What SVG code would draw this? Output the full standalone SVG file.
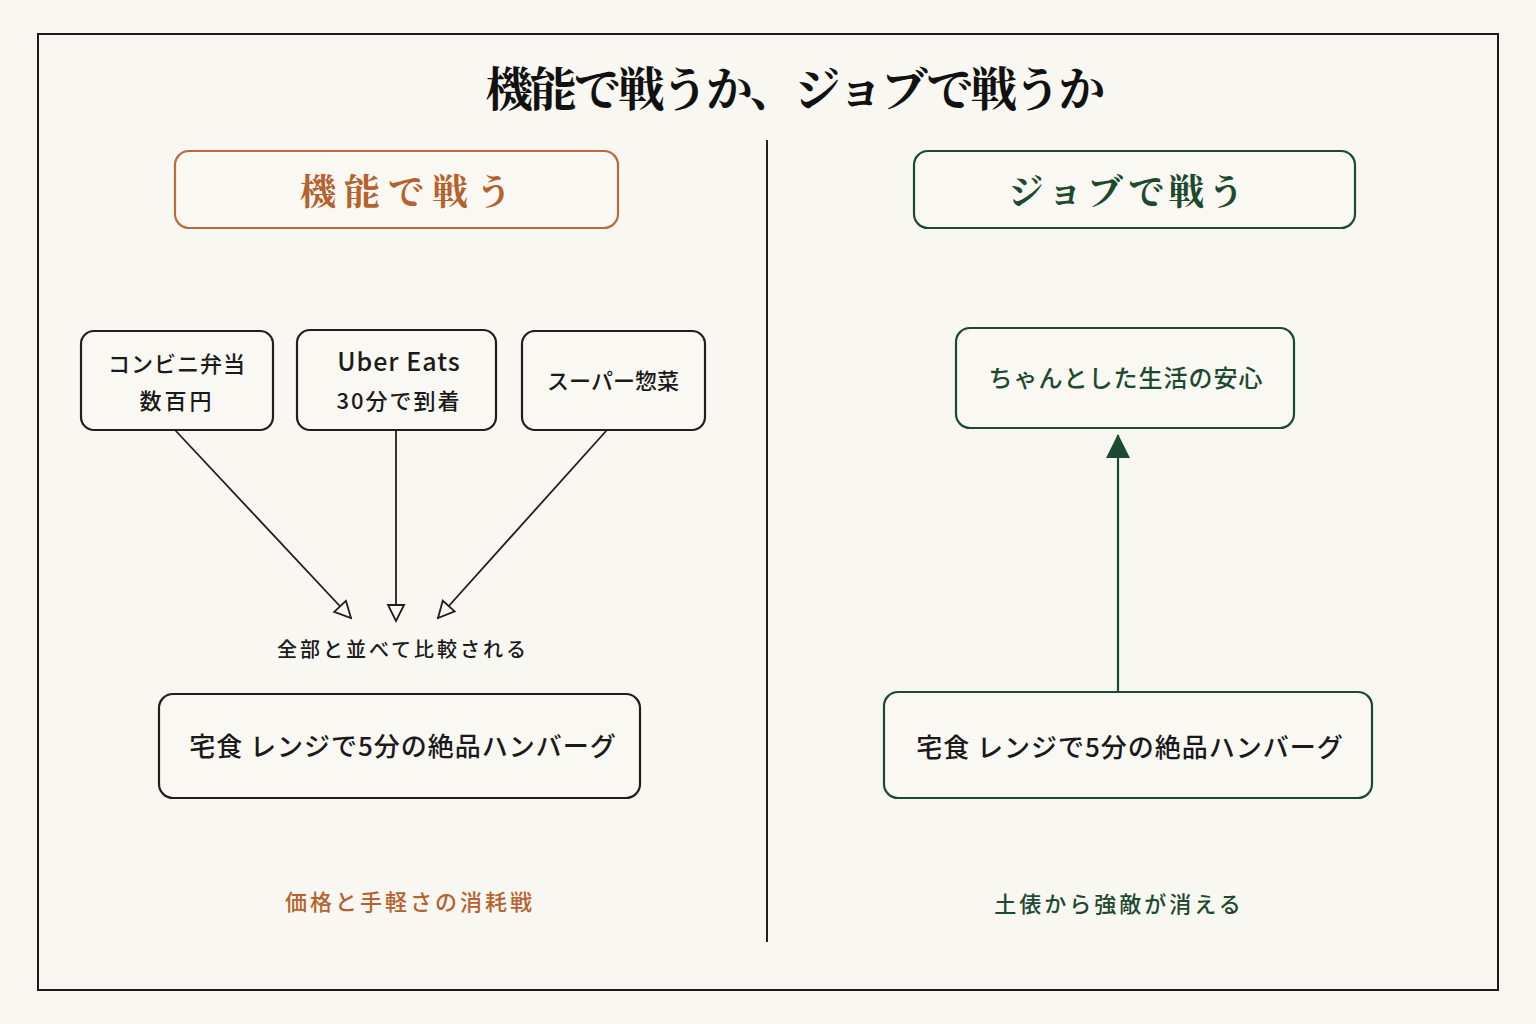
<svg xmlns="http://www.w3.org/2000/svg" width="1536" height="1024" viewBox="0 0 1536 1024">
<style>
.sans{font-family:"Noto Sans CJK JP","Noto Sans",sans-serif;}
.serif{font-family:"Noto Serif CJK JP","Liberation Serif","Noto Sans CJK JP",serif;font-weight:700;}
.box{fill:#faf8f3;stroke:#1f1f1f;stroke-width:2.2;}
.gbox{fill:#faf8f3;stroke:#1d4a2e;stroke-width:2.2;}
.obox{fill:#faf8f3;stroke:#bb6a3c;stroke-width:2.2;}
.t{fill:#1a1a1a;font-weight:500;text-anchor:middle;}
.conn{stroke:#1f1f1f;stroke-width:1.8;fill:none;}
</style>
<defs>
<marker id="open" viewBox="0 0 20 20" refX="18" refY="10" markerWidth="20" markerHeight="20" markerUnits="userSpaceOnUse" orient="auto">
<path d="M2,2 L18,10 L2,18 Z" fill="#faf8f3" stroke="#1f1f1f" stroke-width="1.8"/>
</marker>
<marker id="solid" viewBox="0 0 24 24" refX="23" refY="12" markerWidth="24" markerHeight="24" markerUnits="userSpaceOnUse" orient="auto">
<path d="M0,0 L24,12 L0,24 Z" fill="#1d4a2e"/>
</marker>
</defs>
<rect width="1536" height="1024" fill="#f9f7f2"/>
<rect x="38" y="34" width="1460" height="956" fill="none" stroke="#1a1a1a" stroke-width="2"/>
<text x="794" y="106" class="serif" font-size="47" text-anchor="middle" fill="#111" letter-spacing="-3">機能で戦うか、ジョブで戦うか</text>
<line x1="767" y1="140" x2="767" y2="942" stroke="#222" stroke-width="2"/>

<g id="left-header">
<rect class="obox" x="175" y="151" width="443" height="77" rx="14"/>
<text x="410" y="205" class="serif" font-size="36" text-anchor="middle" fill="#b5622f" letter-spacing="8">機能で戦う</text>
</g>
<g id="right-header">
<rect class="gbox" x="914" y="151" width="441" height="77" rx="14"/>
<text x="1128" y="205" class="serif" font-size="36" text-anchor="middle" fill="#1d4a2e" letter-spacing="4">ジョブで戦う</text>
</g>

<g id="conbini">
<rect class="box" x="81" y="331" width="192" height="99" rx="13"/>
<text x="177" y="372" class="sans t" font-size="22" letter-spacing="1">コンビニ弁当</text>
<text x="177" y="409" class="sans t" font-size="22" letter-spacing="3">数百円</text>
</g>
<g id="ubereats">
<rect class="box" x="297" y="330" width="199" height="100" rx="13"/>
<text x="399" y="371" class="sans t" font-size="25" letter-spacing="1">Uber Eats</text>
<text x="399" y="409" class="sans t" font-size="22" letter-spacing="2">30分で到着</text>
</g>
<g id="super">
<rect class="box" x="522" y="331" width="183" height="99" rx="13"/>
<text x="613" y="389" class="sans t" font-size="22">スーパー惣菜</text>
</g>

<g id="connectors">
<line class="conn" x1="175" y1="430" x2="351" y2="618" marker-end="url(#open)"/>
<line class="conn" x1="396" y1="430" x2="396" y2="621" marker-end="url(#open)"/>
<line class="conn" x1="607" y1="430" x2="438" y2="618" marker-end="url(#open)"/>
<line x1="1118" y1="692" x2="1118" y2="435" stroke="#1d4a2e" stroke-width="2.2" marker-end="url(#solid)"/>
</g>

<text x="403" y="657" class="sans t" font-size="20" letter-spacing="3">全部と並べて比較される</text>

<g id="left-product">
<rect class="box" x="159" y="694" width="481" height="104" rx="14"/>
<text x="403" y="756" class="sans t" font-size="26" letter-spacing="1">宅食 レンジで5分の絶品ハンバーグ</text>
</g>
<text x="410" y="910" class="sans" font-size="22" font-weight="500" text-anchor="middle" fill="#b5622f" letter-spacing="3">価格と手軽さの消耗戦</text>

<g id="anshin">
<rect class="gbox" x="956" y="328" width="338" height="100" rx="14"/>
<text x="1126" y="387" class="sans" font-size="24" font-weight="500" text-anchor="middle" fill="#1d4a2e" letter-spacing="1">ちゃんとした生活の安心</text>
</g>
<g id="right-product">
<rect class="gbox" x="884" y="692" width="488" height="106" rx="14"/>
<text x="1130" y="757" class="sans t" font-size="26" letter-spacing="1">宅食 レンジで5分の絶品ハンバーグ</text>
</g>
<text x="1119" y="912" class="sans" font-size="22" font-weight="500" text-anchor="middle" fill="#1d4a2e" letter-spacing="3">土俵から強敵が消える</text>
</svg>
